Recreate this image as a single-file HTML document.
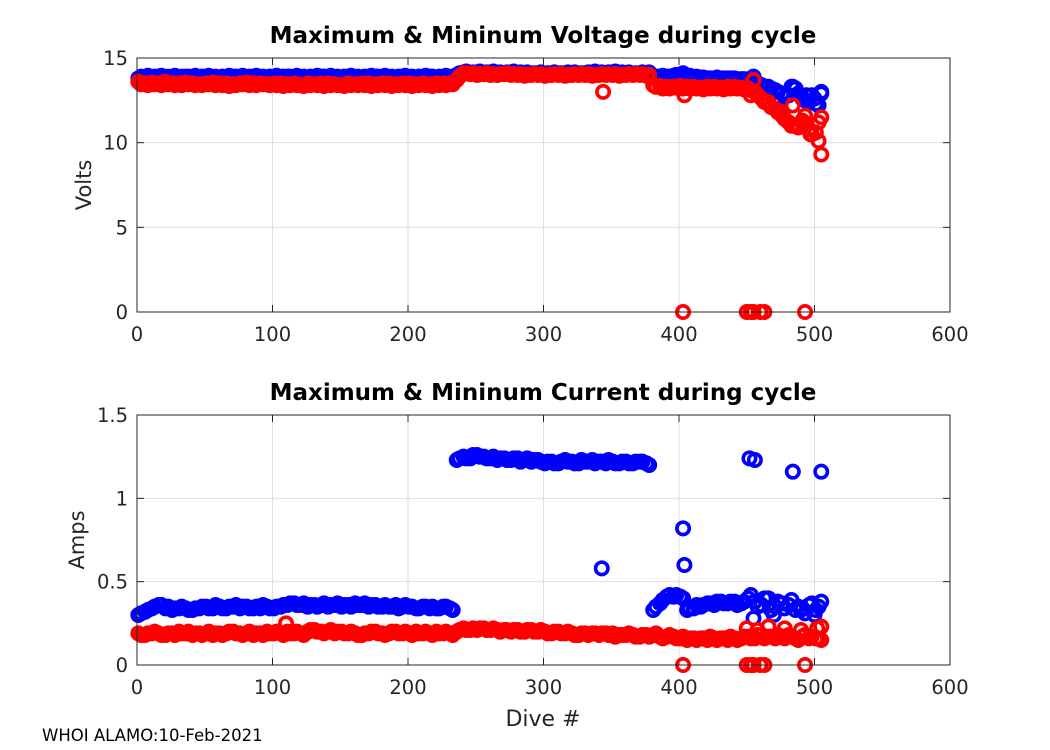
<!DOCTYPE html>
<html><head><meta charset="utf-8"><style>
body{margin:0;background:#fff;}
svg{display:block;font-family:"DejaVu Sans","Liberation Sans",sans-serif;}
</style></head><body>
<svg id="fig" width="1050" height="750" viewBox="0 0 1050 750" xmlns="http://www.w3.org/2000/svg">
<rect width="1050" height="750" fill="#fff"/>
<g id="top"></g>
<g id="bot"></g>
<text x="543" y="43" text-anchor="middle" font-size="23" font-weight="bold">Maximum &amp; Mininum Voltage during cycle</text>
<text x="543" y="400" text-anchor="middle" font-size="23" font-weight="bold">Maximum &amp; Mininum Current during cycle</text>
<text transform="translate(91,185) rotate(-90)" text-anchor="middle" font-size="21" fill="#262626">Volts</text>
<text transform="translate(84,540) rotate(-90)" text-anchor="middle" font-size="21" fill="#262626">Amps</text>
<text x="543" y="726" text-anchor="middle" font-size="22" fill="#262626">Dive #</text>
<text x="42" y="741" font-size="16.5">WHOI ALAMO:10-Feb-2021</text>
</svg>
<script>
const dives=[1,6,11,16,21,26,31,36,41,46,51,56,61,66,71,76,81,86,91,96,101,106,111,116,121,126,131,136,141,146,151,156,161,166,171,176,181,186,191,196,201,206,211,216,221,226,231,236,241,246,251,256,261,266,271,276,281,286,291,296,301,306,311,316,321,326,331,336,341,346,351,356,361,366,371,376,381,386,391,396,401,406,411,416,421,426,431,436,441,446,451,456,461,466,471,476,481,486,491,496,501,505];
const voltMax=[13.8,13.85,13.8,13.9,13.85,13.8,13.85,13.9,13.8,13.85,13.9,13.8,13.85,13.8,13.9,13.85,13.8,13.9,13.85,13.8,13.85,13.8,13.9,13.85,13.8,13.85,13.8,13.9,13.85,13.8,13.85,13.9,13.8,13.85,13.8,13.9,13.85,13.8,13.85,13.9,13.8,13.85,13.8,13.9,13.85,13.8,13.85,14.0,14.15,14.1,14.15,14.1,14.15,14.1,14.1,14.15,14.1,14.1,14.05,14.1,14.05,14.1,14.05,14.1,14.1,14.05,14.1,14.15,14.1,14.1,14.15,14.1,14.1,14.05,14.1,14.1,13.95,13.9,13.9,13.95,14.0,13.9,13.85,13.85,13.8,13.8,13.8,13.8,13.8,13.75,13.7,13.6,13.4,13.3,13.1,12.9,12.8,13.2,12.6,12.4,12.3,12.9];
const voltMin=[13.6,13.5,13.55,13.5,13.6,13.5,13.5,13.55,13.5,13.45,13.5,13.55,13.5,13.5,13.45,13.5,13.55,13.5,13.5,13.45,13.5,13.5,13.45,13.5,13.4,13.5,13.45,13.5,13.5,13.45,13.4,13.5,13.45,13.5,13.5,13.45,13.5,13.5,13.45,13.5,13.5,13.45,13.5,13.45,13.5,13.5,13.5,13.7,14.1,14.05,14.0,14.05,14.0,14.0,14.05,14.0,14.0,13.95,14.0,14.0,13.95,14.0,14.0,13.95,14.0,14.0,14.0,13.95,14.0,14.0,14.0,13.95,14.0,14.0,14.0,13.95,13.4,13.35,13.3,13.3,13.35,13.3,13.3,13.25,13.3,13.3,13.25,13.3,13.3,13.25,13.2,13.0,12.6,12.3,12.0,11.6,11.2,11.0,11.3,10.8,10.6,11.5];
const currMax=[0.30,0.32,0.34,0.36,0.34,0.33,0.34,0.34,0.33,0.34,0.35,0.34,0.35,0.34,0.35,0.34,0.35,0.34,0.34,0.35,0.34,0.35,0.36,0.37,0.36,0.35,0.36,0.36,0.35,0.36,0.35,0.36,0.37,0.36,0.35,0.36,0.35,0.35,0.36,0.35,0.35,0.34,0.35,0.34,0.34,0.35,0.34,1.23,1.25,1.24,1.26,1.25,1.24,1.23,1.24,1.23,1.24,1.23,1.22,1.23,1.21,1.22,1.21,1.23,1.22,1.21,1.22,1.23,1.22,1.21,1.22,1.21,1.22,1.21,1.22,1.21,0.33,0.37,0.41,0.41,0.41,0.33,0.34,0.35,0.37,0.36,0.38,0.37,0.38,0.37,0.40,0.38,0.36,0.40,0.35,0.37,0.36,0.33,0.34,0.36,0.33,0.38];
const currMin=[0.19,0.18,0.19,0.19,0.18,0.19,0.20,0.19,0.18,0.19,0.19,0.18,0.19,0.19,0.20,0.19,0.19,0.18,0.19,0.20,0.19,0.19,0.20,0.19,0.19,0.20,0.21,0.20,0.20,0.19,0.20,0.19,0.19,0.18,0.19,0.20,0.19,0.19,0.20,0.19,0.19,0.20,0.19,0.19,0.20,0.19,0.19,0.20,0.22,0.21,0.21,0.22,0.21,0.21,0.21,0.20,0.21,0.20,0.21,0.20,0.20,0.19,0.20,0.19,0.19,0.18,0.19,0.19,0.18,0.19,0.19,0.18,0.18,0.18,0.17,0.18,0.18,0.17,0.17,0.17,0.16,0.15,0.16,0.16,0.15,0.16,0.16,0.15,0.16,0.16,0.17,0.16,0.18,0.17,0.16,0.17,0.18,0.16,0.17,0.16,0.16,0.15];
const dives2=[3,8,13,18,23,28,33,38,43,48,53,58,63,68,73,78,83,88,93,98,103,108,113,118,123,128,133,138,143,148,153,158,163,168,173,178,183,188,193,198,203,208,213,218,223,228,233,238,243,248,253,258,263,268,273,278,283,288,293,298,303,308,313,318,323,328,333,338,343,348,353,358,363,368,373,378,383,388,393,398,403,408,413,418,423,428,433,438,443,448,453,458,463,468,473,478,483,488,493,498,503];
const voltMax2=[13.9,13.95,13.9,13.95,13.9,13.95,13.9,13.9,13.95,13.9,13.95,13.9,13.9,13.95,13.9,13.95,13.9,13.95,13.9,13.9,13.95,13.9,13.9,13.95,13.9,13.9,13.95,13.9,13.95,13.9,13.9,13.95,13.9,13.9,13.95,13.9,13.95,13.9,13.9,13.95,13.9,13.9,13.95,13.9,13.9,13.95,13.9,14.1,14.2,14.15,14.2,14.15,14.2,14.15,14.15,14.2,14.15,14.15,14.1,14.15,14.1,14.15,14.1,14.15,14.15,14.1,14.15,14.2,14.15,14.15,14.2,14.15,14.15,14.1,14.15,14.15,13.9,13.95,13.9,14.0,14.1,13.95,13.9,13.85,13.8,13.85,13.8,13.8,13.75,13.75,13.8,13.5,13.3,13.2,13.0,12.7,13.3,12.9,12.5,12.8,12.2];
const voltMin2=[13.45,13.4,13.45,13.4,13.45,13.4,13.4,13.45,13.4,13.4,13.45,13.4,13.4,13.35,13.4,13.45,13.4,13.4,13.45,13.4,13.4,13.35,13.4,13.4,13.35,13.4,13.4,13.35,13.4,13.4,13.35,13.4,13.4,13.4,13.35,13.4,13.4,13.35,13.4,13.4,13.35,13.4,13.4,13.35,13.4,13.4,13.45,13.9,14.1,14.1,14.05,14.1,14.05,14.05,14.1,14.05,14.05,14.0,14.05,14.05,14.0,14.05,14.05,14.0,14.05,14.05,14.05,14.0,14.05,14.05,14.05,14.0,14.05,14.05,14.05,14.0,13.3,13.2,13.2,13.25,13.2,13.2,13.2,13.15,13.2,13.2,13.15,13.2,13.2,13.15,13.1,12.8,12.4,12.1,11.8,11.4,11.0,10.9,11.6,10.5,11.2];
const currMax2=[0.31,0.33,0.35,0.36,0.35,0.34,0.35,0.33,0.34,0.35,0.34,0.36,0.34,0.35,0.36,0.35,0.34,0.35,0.36,0.34,0.35,0.36,0.37,0.36,0.37,0.36,0.35,0.37,0.36,0.37,0.36,0.35,0.36,0.37,0.36,0.35,0.36,0.35,0.34,0.36,0.35,0.34,0.35,0.35,0.34,0.35,0.33,1.24,1.24,1.26,1.25,1.24,1.25,1.24,1.23,1.24,1.22,1.24,1.23,1.22,1.22,1.21,1.22,1.22,1.21,1.23,1.22,1.21,1.22,1.23,1.21,1.22,1.21,1.22,1.22,1.20,0.35,0.39,0.42,0.42,0.40,0.34,0.36,0.36,0.37,0.38,0.37,0.38,0.36,0.38,0.42,0.35,0.40,0.33,0.38,0.34,0.39,0.35,0.31,0.37,0.35];
const currMin2=[0.18,0.19,0.20,0.18,0.19,0.18,0.19,0.20,0.19,0.18,0.20,0.19,0.18,0.20,0.19,0.18,0.20,0.19,0.18,0.19,0.20,0.18,0.19,0.20,0.18,0.21,0.20,0.19,0.21,0.20,0.19,0.20,0.18,0.19,0.20,0.19,0.18,0.20,0.19,0.20,0.18,0.19,0.20,0.18,0.19,0.20,0.18,0.21,0.21,0.22,0.22,0.21,0.22,0.20,0.21,0.21,0.20,0.21,0.20,0.21,0.19,0.20,0.19,0.20,0.18,0.19,0.18,0.19,0.19,0.18,0.17,0.18,0.19,0.17,0.18,0.17,0.19,0.16,0.18,0.16,0.17,0.16,0.15,0.16,0.17,0.15,0.16,0.17,0.15,0.17,0.16,0.18,0.16,0.17,0.18,0.16,0.17,0.15,0.18,0.17,0.16];
const voltMaxExtraDives=[455,466,484,494,500,505];
const voltMaxExtra=[13.9,13.1,13.3,12.8,12.6,13.0];
const voltMinExtraDives=[344,404,453,455,466,476,484,488,492,497,503,505,403,450,453,455,460,463,493];
const voltMinExtra=[13.0,12.8,12.8,13.7,12.4,11.8,12.2,11.0,11.1,10.5,10.1,9.3,0,0,0,0,0,0,0];
const currMaxExtraDives=[343,403,404,452,456,484,505,455,470,490,500];
const currMaxExtra=[0.58,0.82,0.60,1.24,1.23,1.16,1.16,0.28,0.30,0.33,0.30];
const currMinExtraDives=[110,450,458,466,478,490,502,505,403,450,453,455,460,463,493];
const currMinExtra=[0.25,0.22,0.21,0.23,0.22,0.21,0.22,0.23,0,0,0,0,0,0,0];
const xTicks=[0,100,200,300,400,500,600];
const voltTicks=[0,5,10,15];
const currTicks=[0,0.5,1,1.5];

const NS="http://www.w3.org/2000/svg";
const X0=137,X1=950;
function xs(v){return X0+(v-0)/(600-0)*(X1-X0);}
function mk(tag,attrs,parent){const e=document.createElementNS(NS,tag);for(const k in attrs)e.setAttribute(k,attrs[k]);parent.appendChild(e);return e;}
function axes(g,top,bot,ymax,yticks,fmt){
  const ys=v=>bot-(v/ymax)*(bot-top);
  mk('rect',{x:X0,y:top,width:X1-X0,height:bot-top,fill:'#fff'},g);
  for(const t of xTicks){
    const x=xs(t);
    const l=mk('line',{x1:x,x2:x,y1:top,y2:bot,stroke:'#dfdfdf','stroke-width':1},g);
    
    
    const tx=mk('text',{x:x,y:bot+29,'text-anchor':'middle','font-size':19.5,fill:'#262626'},g);
    tx.textContent=t;
    
    
    mk('line',{x1:x,x2:x,y1:bot,y2:bot-7,stroke:'#262626'},g);
    mk('line',{x1:x,x2:x,y1:top,y2:top+7,stroke:'#262626'},g);
  }
  for(const t of yticks){
    const y=ys(t);
    const l=mk('line',{x1:X0,x2:X1,y1:y,y2:y,stroke:'#dfdfdf','stroke-width':1},g);
    
    
    const tx=mk('text',{x:X0-9,y:y+7,'text-anchor':'end','font-size':19.5,fill:'#262626'},g);
    tx.textContent=fmt(t);
    
    
    mk('line',{x1:X0,x2:X0+7,y1:y,y2:y,stroke:'#262626'},g);
    mk('line',{x1:X1,x2:X1-7,y1:y,y2:y,stroke:'#262626'},g);
  }
  return ys;
}
function series(g,ys,dx,vals,color,name){
  for(let i=0;i<vals.length;i++){
    const c=mk('circle',{cx:xs(dx[i]),cy:ys(vals[i]),r:6.2,fill:'none',stroke:color,'stroke-width':3.6},g);
    
    
  }
}
function frame(g,top,bot){
  const r=mk('rect',{x:X0,y:top,width:X1-X0,height:bot-top,fill:'none',stroke:'#262626','stroke-width':1},g);
  
  
}
const gt=document.getElementById('top');
const ysT=axes(gt,58,312,15,voltTicks,t=>t);
series(gt,ysT,dives,voltMax,'#0000ff','voltage-max-point');
series(gt,ysT,dives2,voltMax2,'#0000ff','voltage-max-point');
series(gt,ysT,voltMaxExtraDives,voltMaxExtra,'#0000ff','voltage-max-point');
series(gt,ysT,dives,voltMin,'#ff0000','voltage-min-point');
series(gt,ysT,dives2,voltMin2,'#ff0000','voltage-min-point');
series(gt,ysT,voltMinExtraDives,voltMinExtra,'#ff0000','voltage-min-point');
frame(gt,58,312);
const gb=document.getElementById('bot');
const ysB=axes(gb,415,665,1.5,currTicks,t=>String(t));
series(gb,ysB,dives,currMax,'#0000ff','current-max-point');
series(gb,ysB,dives2,currMax2,'#0000ff','current-max-point');
series(gb,ysB,currMaxExtraDives,currMaxExtra,'#0000ff','current-max-point');
series(gb,ysB,dives,currMin,'#ff0000','current-min-point');
series(gb,ysB,dives2,currMin2,'#ff0000','current-min-point');
series(gb,ysB,currMinExtraDives,currMinExtra,'#ff0000','current-min-point');
frame(gb,415,665);
</script>
</body></html>
